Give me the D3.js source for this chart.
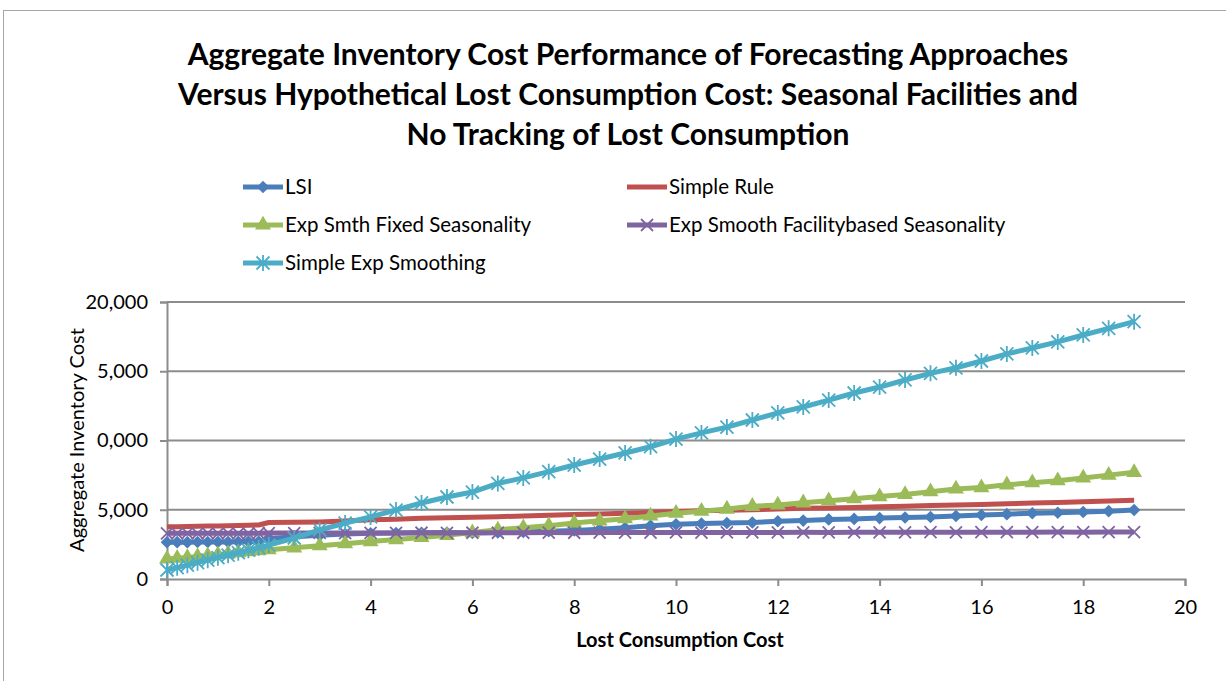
<!DOCTYPE html>
<html>
<head>
<meta charset="utf-8">
<script src="https://cdn.jsdelivr.net/npm/d3@7"></script>
<style>
  body { margin: 0; background: #fff; }
  svg { display: block; }
  text { font-family: Lato, "Open Sans", sans-serif; fill: #000; }
</style>
</head>
<body>
<div id="chart"></div>
<script>
// lost consumption cost (x)
var xs = [0, 0.2, 0.4, 0.6, 0.8, 1, 1.2, 1.4, 1.6, 1.8, 2,
  2.5, 3, 3.5, 4, 4.5, 5, 5.5, 6, 6.5, 7, 7.5, 8, 8.5, 9, 9.5, 10,
  10.5, 11, 11.5, 12, 12.5, 13, 13.5, 14, 14.5, 15, 15.5, 16, 16.5, 17, 17.5, 18, 18.5, 19];

var lsi = [2650, 2660, 2660, 2670, 2670, 2680, 2680, 2690, 2700, 2700, 2900,
  3050, 3150, 3250, 3300, 3320, 3340, 3350, 3330, 3360, 3400, 3450, 3500,
  3600, 3700, 3850, 3950, 4000, 4040, 4080, 4170, 4220, 4300, 4340, 4400,
  4440, 4480, 4550, 4620, 4680, 4750, 4780, 4840, 4900, 4980];

var simpleRule = [3780, 3780, 3790, 3800, 3820, 3830, 3850, 3870, 3880, 3900, 4080,
  4100, 4120, 4180, 4280, 4320, 4380, 4420, 4450, 4500, 4550, 4600, 4650,
  4700, 4750, 4800, 4880, 4920, 4960, 5000, 5050, 5100, 5130, 5170, 5220,
  5260, 5300, 5340, 5380, 5430, 5480, 5530, 5570, 5640, 5680];

var fixedSeas = [1450, 1500, 1550, 1620, 1680, 1750, 1820, 1900, 1980, 2050, 2120,
  2250, 2400, 2550, 2700, 2850, 3000, 3150, 3350, 3550, 3700, 3850, 4050,
  4200, 4350, 4550, 4750, 4900, 5050, 5250, 5350, 5500, 5650, 5800, 5950,
  6100, 6300, 6500, 6600, 6800, 6950, 7100, 7300, 7500, 7700];

var facilitySeas = [3300, 3300, 3310, 3300, 3310, 3300, 3310, 3300, 3300, 3310, 3320,
  3320, 3330, 3320, 3330, 3330, 3340, 3330, 3340, 3340, 3340, 3350, 3340,
  3350, 3350, 3350, 3360, 3350, 3360, 3360, 3360, 3370, 3360, 3370, 3370,
  3370, 3380, 3370, 3380, 3380, 3380, 3390, 3380, 3390, 3390];

var simpleExp = [650, 820, 1000, 1180, 1360, 1540, 1720, 1900, 2080, 2260, 2450,
  2960, 3540, 4040, 4480, 4980, 5490, 5920, 6280, 6900, 7300, 7750, 8230,
  8660, 9100, 9550, 10100, 10550, 10970, 11480, 11990, 12420, 12920, 13430, 13860,
  14370, 14850, 15250, 15740, 16250, 16680, 17120, 17620, 18100, 18580];

var seriesNames = ["LSI", "Simple Rule", "Exp Smth Fixed Seasonality",
  "Exp Smooth Facilitybased Seasonality", "Simple Exp Smoothing"];
var seriesValues = [lsi, simpleRule, fixedSeas, facilitySeas, simpleExp];
var seriesColors = ["#4a7ebb", "#c0504d", "#9bbb59", "#8064a2", "#4bacc6"];
var seriesMarkers = ["diamond", "none", "triangle", "x", "star"];

var yTickValues = [0, 5000, 10000, 15000, 20000];
var yTickLabels = ["0", "5,000", "0,000", "5,000", "20,000"];
var xTickValues = [0, 2, 4, 6, 8, 10, 12, 14, 16, 18, 20];

var titleLines = ["Aggregate Inventory Cost Performance of Forecasting Approaches",
  "Versus Hypothetical Lost Consumption Cost: Seasonal Facilities and",
  "No Tracking of Lost Consumption"];

var W = 1226, H = 681;
var svg = d3.select("#chart").append("svg").attr("width", W).attr("height", H);

// outer chart border
svg.append("rect").attr("x", 3.5).attr("y", 10.5).attr("width", W + 10).attr("height", H + 10)
  .attr("fill", "none").attr("stroke", "#a6a6a6").attr("stroke-width", 1);

var x = d3.scaleLinear().domain([0, 20]).range([167, 1185]);
var y = d3.scaleLinear().domain([0, 20000]).range([579, 302]);

// title
svg.append("g").selectAll("text").data(titleLines).enter().append("text")
  .attr("x", 628).attr("y", function (d, i) { return 65 + i * 40; })
  .attr("text-anchor", "middle").style("font-weight", "bold").style("font-size", "30px")
  .text(function (d) { return d; });

// gridlines
svg.append("g").selectAll("line").data(yTickValues.slice(1)).enter().append("line")
  .attr("x1", x(0)).attr("x2", x(20))
  .attr("y1", function (d) { return y(d); }).attr("y2", function (d) { return y(d); })
  .attr("stroke", "#8c8c8c").attr("stroke-width", 2);

// axes
var yAxis = svg.append("g").attr("transform", "translate(" + x(0) + ",0)")
  .call(d3.axisLeft(y).tickValues(yTickValues).tickSize(7).tickPadding(12)
    .tickFormat(function (d, i) { return yTickLabels[i]; }));
var xAxis = svg.append("g").attr("transform", "translate(0," + y(0) + ")")
  .call(d3.axisBottom(x).tickValues(xTickValues).tickSize(7).tickPadding(14));
[yAxis, xAxis].forEach(function (a) {
  a.select(".domain").attr("stroke", "#8c8c8c").attr("stroke-width", 2);
  a.selectAll(".tick line").attr("stroke", "#8c8c8c").attr("stroke-width", 2);
  a.selectAll("text").style("font-size", "20px").attr("fill", "#000").style("font-family", "Lato, sans-serif");
});

svg.append("text").attr("transform", "translate(84,440) rotate(-90)")
  .attr("text-anchor", "middle").style("font-size", "20px").text("Aggregate Inventory Cost");
svg.append("text").attr("x", 680).attr("y", 647).attr("text-anchor", "middle")
  .style("font-weight", "bold").style("font-size", "20px").text("Lost Consumption Cost");

function drawMarker(g, type, color) {
  if (type === "diamond") {
    g.append("path").attr("d", d3.symbol().type(d3.symbolSquare).size(80)())
      .attr("transform", "rotate(45)").attr("fill", color);
  } else if (type === "triangle") {
    g.append("path").attr("d", d3.symbol().type(d3.symbolTriangle).size(110)())
      .attr("fill", color);
  } else if (type === "x") {
    g.append("path").attr("d", "M-6,-6L6,6M-6,6L6,-6")
      .attr("stroke", color).attr("stroke-width", 1.8).attr("fill", "none");
  } else if (type === "star") {
    g.append("path").attr("d", "M-6.5,-6.5L6.5,6.5M-6.5,6.5L6.5,-6.5M0,-8L0,8")
      .attr("stroke", color).attr("stroke-width", 1.8).attr("fill", "none");
  }
}

var line = d3.line().x(function (d) { return x(d[0]); }).y(function (d) { return y(d[1]); });

seriesValues.forEach(function (vals, si) {
  var pts = xs.map(function (xv, i) { return [xv, vals[i]]; });
  var g = svg.append("g");
  g.append("path").datum(pts).attr("d", line).attr("fill", "none")
    .attr("stroke", seriesColors[si]).attr("stroke-width", 5).attr("stroke-linejoin", "round");
  if (seriesMarkers[si] !== "none") {
    g.selectAll("g.m").data(pts).enter().append("g").attr("class", "m")
      .attr("transform", function (d) { return "translate(" + x(d[0]) + "," + y(d[1]) + ")"; })
      .each(function () { drawMarker(d3.select(this), seriesMarkers[si], seriesColors[si]); });
  }
});

// legend
var legendPos = [[243, 187], [627, 187], [243, 225], [627, 225], [243, 263]];
var lg = svg.append("g").selectAll("g").data(seriesNames).enter().append("g")
  .attr("transform", function (d, i) { return "translate(" + legendPos[i][0] + "," + legendPos[i][1] + ")"; });
lg.append("line").attr("x1", 0).attr("x2", 40).attr("y1", 0).attr("y2", 0)
  .attr("stroke", function (d, i) { return seriesColors[i]; }).attr("stroke-width", 5);
lg.each(function (d, i) {
  var m = d3.select(this).append("g").attr("transform", "translate(20,0)");
  drawMarker(m, seriesMarkers[i], seriesColors[i]);
});
lg.append("text").attr("x", 42).attr("y", 7).style("font-size", "20.5px").text(function (d) { return d; });
</script>
</body>
</html>
